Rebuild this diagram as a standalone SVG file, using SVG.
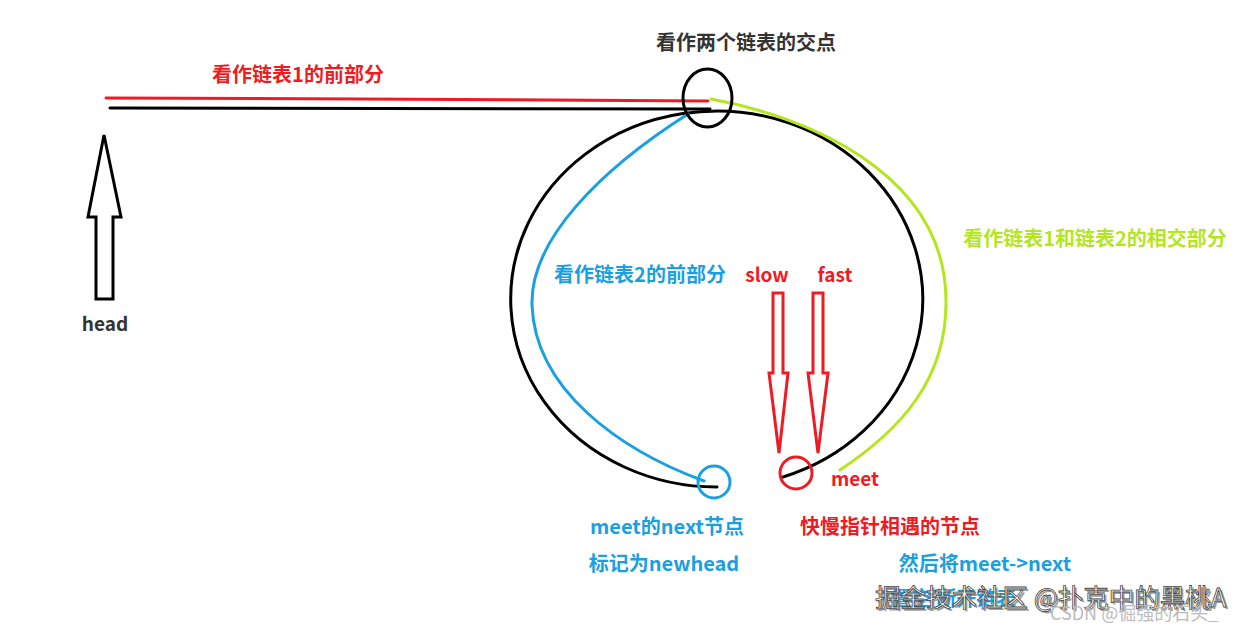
<svg xmlns="http://www.w3.org/2000/svg" width="1246" height="631" viewBox="0 0 1246 631">
<style>
.t{font-family:"Noto Sans CJK SC","Noto Sans",sans-serif;font-weight:bold;font-size:20px;dominant-baseline:central}
.dark{fill:#333}
.red{fill:#ed1c24}
.blue{fill:#1aa0e2}
.green{fill:#b5e61d}
.ln{fill:none;stroke-width:3;stroke-linecap:round}
.wm{font-family:"Noto Sans CJK SC","Noto Sans",sans-serif;font-size:25.5px;dominant-baseline:central}
</style>
<rect width="1246" height="631" fill="#fff"/>
<g id="connectors">
  <path class="ln" d="M106,98 L360,99 L708,101" stroke="#ed1c24"/>
  <path class="ln" d="M110,108 L710,109" stroke="#000"/>
  <path class="ln" d="M717,487 A206,188 0 1 1 783,477" stroke="#000"/>
  <path class="ln" d="M688,114 C600,170 530,240 532,305 C535,390 620,450 704,481" stroke="#1aa0e2"/>
  <path class="ln" d="M711,99 C800,115 945,170 946,300 C947,380 900,430 840,470" stroke="#b5e61d"/>
</g>
<g id="intersection">
  <ellipse cx="707.5" cy="98" rx="24.5" ry="29" fill="none" stroke="#000" stroke-width="3"/>
  <text class="t dark" x="746" y="41" text-anchor="middle">看作两个链表的交点</text>
</g>
<g id="list1-front">
  <text class="t red" x="298" y="73" text-anchor="middle">看作链表1的前部分</text>
</g>
<g id="head">
  <polygon points="104,135 121,217 113,217 113,299 96,299 96,217 88,217" fill="none" stroke="#000" stroke-width="3" stroke-linejoin="miter"/>
  <text class="t dark" x="105" y="322" text-anchor="middle" style="font-size:19px">head</text>
</g>
<g id="list2-front">
  <text class="t blue" x="640" y="273" text-anchor="middle">看作链表2的前部分</text>
</g>
<g id="common-part">
  <text class="t green" x="1095" y="237" text-anchor="middle">看作链表1和链表2的相交部分</text>
</g>
<g id="slow">
  <polygon points="773,293 783,293 783,373 788,373 779,453 769,373 773,373" fill="none" stroke="#ed1c24" stroke-width="3"/>
  <text class="t red" x="767" y="273" text-anchor="middle" style="font-size:19px">slow</text>
</g>
<g id="fast">
  <polygon points="813,293 823,293 823,373 828,373 818,453 808,373 813,373" fill="none" stroke="#ed1c24" stroke-width="3"/>
  <text class="t red" x="835" y="273" text-anchor="middle" style="font-size:19px">fast</text>
</g>
<g id="meet-next">
  <circle cx="714" cy="482" r="16" fill="none" stroke="#1aa0e2" stroke-width="3"/>
  <text class="t blue" x="667" y="525" text-anchor="middle">meet的next节点</text>
  <text class="t blue" x="664" y="562" text-anchor="middle">标记为newhead</text>
</g>
<g id="meet">
  <circle cx="796" cy="473" r="16" fill="none" stroke="#ed1c24" stroke-width="3"/>
  <text class="t red" x="855" y="477" text-anchor="middle" style="font-size:19px">meet</text>
  <text class="t red" x="890" y="525" text-anchor="middle">快慢指针相遇的节点</text>
</g>
<g id="note">
  <text class="t blue" x="985" y="562" text-anchor="middle">然后将meet-&gt;next</text>
  <text class="t blue" x="954" y="597" text-anchor="middle">置空 断开链表</text>
</g>
<g id="watermark">
  <text class="wm" x="877" y="597" fill="#777" opacity="0.7">掘金技术社区 @扑克中的黑桃A</text>
  <text class="wm" x="875" y="595" fill="#fff" stroke="#444" stroke-width="0.8">掘金技术社区 @扑克中的黑桃A</text>
  <text x="1050" y="612" style="font-family:'Noto Sans CJK SC','Noto Sans',sans-serif;font-size:18px;dominant-baseline:central" fill="#bbb">CSDN @倔强的石头_</text>
</g>
</svg>
